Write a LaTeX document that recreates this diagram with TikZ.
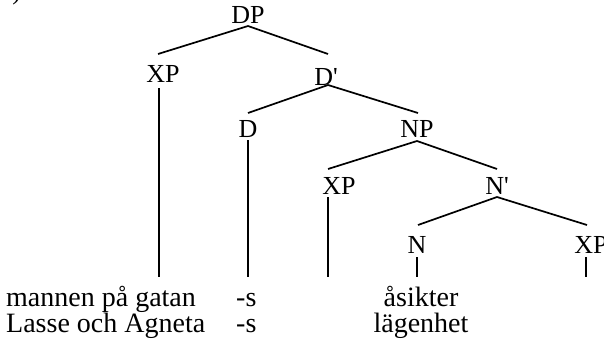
\documentclass[tikz,border=0pt]{standalone}
\usepackage{fontspec}
\setmainfont{Liberation Serif}
\begin{document}
\begin{tikzpicture}[x=1pt,y=-1pt,
  lab/.style={inner sep=0pt,font=\fontsize{26}{26}\selectfont},
  word/.style={inner sep=0pt,font=\fontsize{28}{28}\selectfont},
  branch/.style={line width=1.7pt},
  stem/.style={line width=1.4pt}]
\useasboundingbox (0,0) rectangle (604,348);
% example number, mostly above the frame
\node[lab,anchor=base west] (num) at (5,-0.5) {i)};
% category labels
\node[lab] (dp)  at (248,15)  {DP};
\node[lab] (xp1) at (163,74)  {XP};
\node[lab] (dbar) at (326,77) {D\textquotesingle};
\node[lab] (d)   at (248,129) {D};
\node[lab] (np)  at (417,129) {NP};
\node[lab] (xp2) at (339,186) {XP};
\node[lab] (nbar) at (497,186) {N\textquotesingle};
\node[lab] (n)   at (417,245) {N};
\node[lab] (xp3) at (591,245) {XP};
% attachment points of the branches
\coordinate (dp-b)  at (248,26);
\coordinate (xp1-t) at (158,54);
\coordinate (xp1-b) at (159,88);
\coordinate (dbar-t) at (328,54);
\coordinate (dbar-b) at (328,85);
\coordinate (d-t)   at (248,113);
\coordinate (d-b)   at (248,140);
\coordinate (np-t)  at (418,113);
\coordinate (np-b)  at (417,141);
\coordinate (xp2-t) at (328,169);
\coordinate (xp2-b) at (328,197);
\coordinate (nbar-t) at (497,169);
\coordinate (nbar-b) at (497,197);
\coordinate (n-t)   at (418,225);
\coordinate (n-b)   at (417,257);
\coordinate (xp3-t) at (587,225);
\coordinate (xp3-b) at (586,257);
% terminal words
\node[word,anchor=base west] (w1) at (6,306) {mannen på gatan};
\node[word,anchor=base west] (w2) at (236,306) {-s};
\node[word,anchor=base] (w3) at (421,306) {åsikter};
\node[word,anchor=base west] (w4) at (6,332) {Lasse och Agneta};
\node[word,anchor=base west] (w5) at (236,332) {-s};
\node[word,anchor=base] (w6) at (421,332) {lägenhet};
% branches
\draw[branch] (xp1-t) -- (dp-b) -- (dbar-t);
\draw[branch] (d-t) -- (dbar-b) -- (np-t);
\draw[branch] (xp2-t) -- (np-b) -- (nbar-t);
\draw[branch] (n-t) -- (nbar-b) -- (xp3-t);
% stems down to the words
\draw[stem] (xp1-b) -- (xp1-b |- 0,277);
\draw[stem] (d-b) -- (d-b |- 0,277);
\draw[stem] (xp2-b) -- (xp2-b |- 0,277);
\draw[stem] (n-b) -- (n-b |- 0,277);
\draw[stem] (xp3-b) -- (xp3-b |- 0,277);
\end{tikzpicture}
\end{document}
